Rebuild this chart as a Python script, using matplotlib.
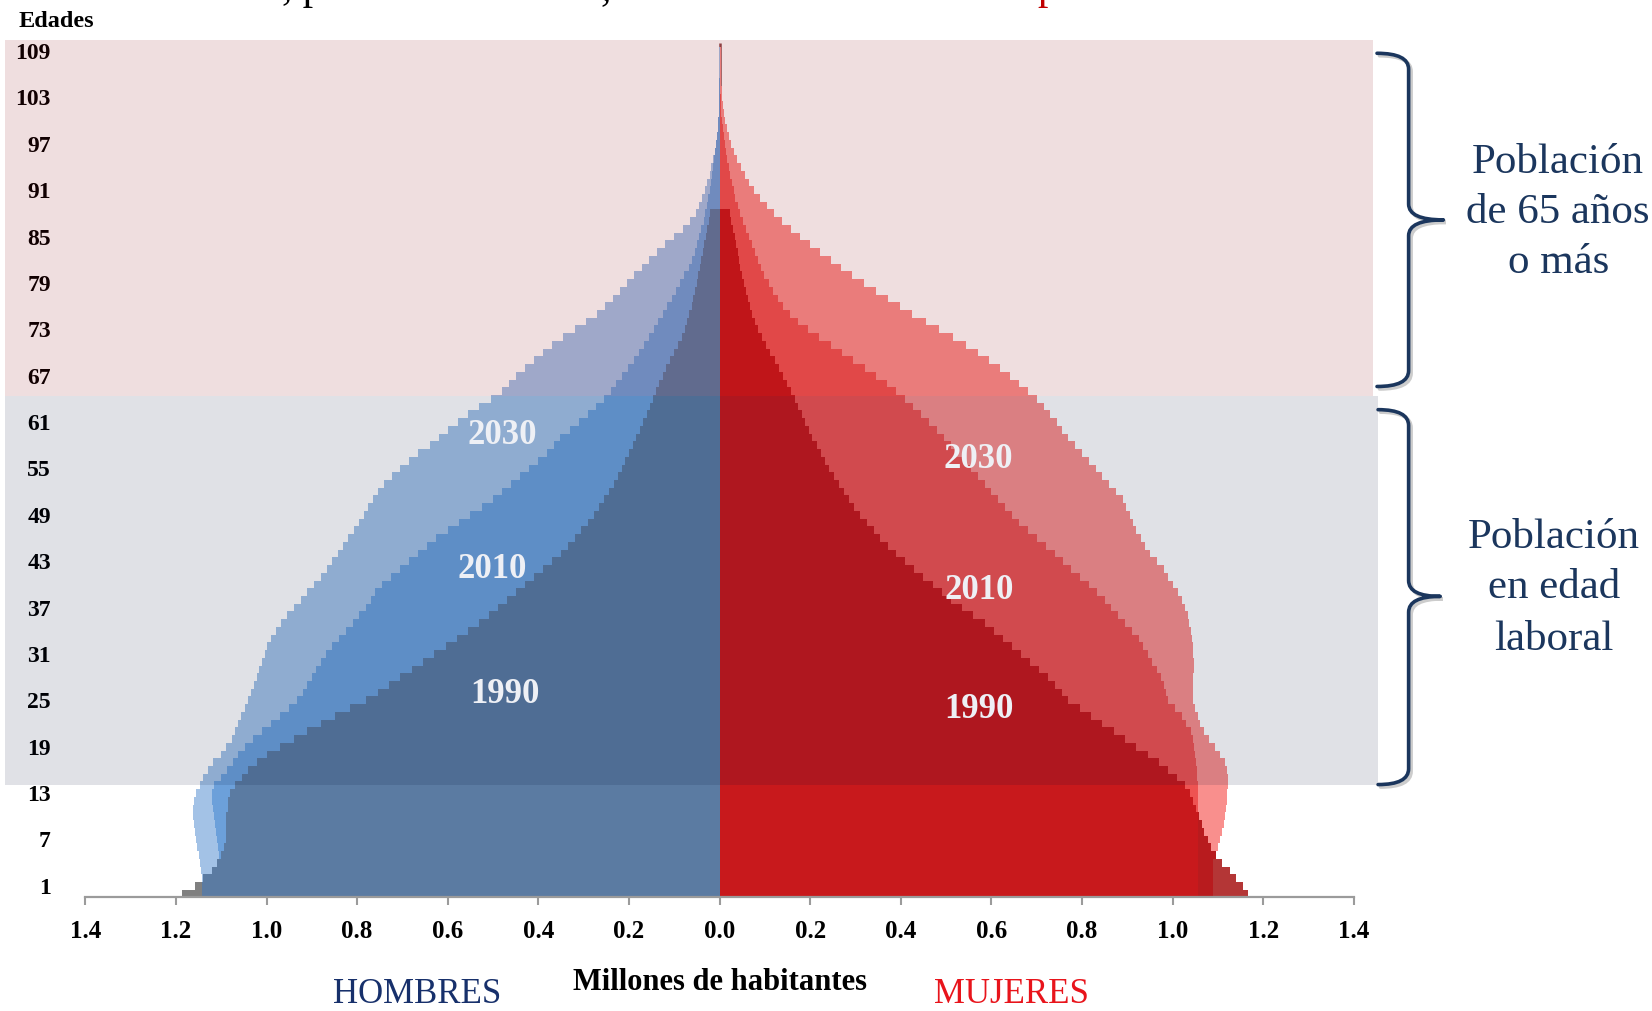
import numpy as np
import matplotlib
matplotlib.use("Agg")
import matplotlib.pyplot as plt
from matplotlib.patches import Rectangle, PathPatch
from matplotlib.path import Path
import matplotlib.transforms as mtransforms

plt.rcParams['font.family'] = ['Liberation Serif', 'DejaVu Serif']

# ---------------- data (millions of inhabitants, ages 0..109) ----------------
ages = np.arange(0, 110)

male_1990 = [1.187, 1.158, 1.14, 1.12, 1.11, 1.10, 1.095, 1.09, 1.09, 1.09,
             1.09, 1.085, 1.085, 1.08, 1.07, 1.055, 1.04, 1.02, 1.0, 0.97,
             0.94, 0.91, 0.88, 0.85, 0.815, 0.78, 0.755, 0.73, 0.705, 0.68,
             0.655, 0.63, 0.605, 0.58, 0.555, 0.53, 0.51, 0.49, 0.47, 0.45,
             0.43, 0.41, 0.39, 0.37, 0.35, 0.335, 0.32, 0.305, 0.29, 0.278,
             0.266, 0.255, 0.244, 0.234, 0.225, 0.216, 0.208, 0.2, 0.192, 0.184,
             0.176, 0.168, 0.161, 0.154, 0.147, 0.14, 0.133, 0.126, 0.118, 0.11,
             0.1, 0.092, 0.084, 0.077, 0.072, 0.067, 0.062, 0.058, 0.054, 0.05,
             0.047, 0.044, 0.04, 0.037, 0.034, 0.03, 0.027, 0.024, 0.021, 0,
             0, 0, 0, 0, 0, 0, 0, 0, 0, 0,
             0, 0, 0, 0, 0, 0, 0, 0, 0, 0]

male_2010 = [1.10, 1.10, 1.10, 1.10, 1.10, 1.105, 1.108, 1.11, 1.112, 1.114,
             1.116, 1.118, 1.12, 1.12, 1.115, 1.10, 1.088, 1.075, 1.062, 1.048,
             1.03, 1.01, 0.99, 0.97, 0.95, 0.932, 0.92, 0.91, 0.90, 0.89,
             0.88, 0.868, 0.855, 0.84, 0.825, 0.81, 0.795, 0.78, 0.77, 0.76,
             0.745, 0.725, 0.705, 0.685, 0.665, 0.645, 0.625, 0.60, 0.575, 0.55,
             0.525, 0.50, 0.48, 0.46, 0.44, 0.42, 0.40, 0.38, 0.365, 0.352,
             0.33, 0.31, 0.29, 0.272, 0.255, 0.24, 0.228, 0.215, 0.203, 0.19,
             0.178, 0.166, 0.155, 0.145, 0.135, 0.125, 0.115, 0.105, 0.096, 0.087,
             0.078, 0.068, 0.06, 0.055, 0.05, 0.045, 0.04, 0.035, 0.032, 0.028,
             0.025, 0.022, 0.019, 0.016, 0.014, 0.012, 0.01, 0.008, 0.006, 0.004,
             0.003, 0.002, 0.0015, 0.001, 0.001, 0.001, 0, 0, 0, 0]

male_2030 = [1.143, 1.143, 1.143, 1.145, 1.148, 1.15, 1.153, 1.155, 1.158, 1.16,
             1.162, 1.162, 1.16, 1.155, 1.148, 1.14, 1.13, 1.118, 1.10, 1.09,
             1.077, 1.07, 1.063, 1.056, 1.048, 1.04, 1.034, 1.028, 1.022, 1.016,
             1.01, 1.004, 0.998, 0.99, 0.98, 0.968, 0.955, 0.94, 0.925, 0.91,
             0.895, 0.88, 0.867, 0.855, 0.843, 0.831, 0.82, 0.808, 0.796, 0.785,
             0.775, 0.765, 0.755, 0.74, 0.722, 0.705, 0.685, 0.665, 0.64, 0.62,
             0.60, 0.578, 0.555, 0.53, 0.505, 0.48, 0.465, 0.45, 0.43, 0.41,
             0.39, 0.37, 0.345, 0.32, 0.295, 0.27, 0.252, 0.235, 0.22, 0.204,
             0.188, 0.172, 0.155, 0.138, 0.12, 0.1, 0.08, 0.065, 0.052, 0.045,
             0.038, 0.032, 0.027, 0.022, 0.018, 0.014, 0.011, 0.008, 0.006, 0.004,
             0.003, 0.002, 0.0015, 0.001, 0.001, 0.001, 0.001, 0.001, 0.001, 0.001]

female_1990 = [1.166, 1.155, 1.14, 1.126, 1.11, 1.095, 1.085, 1.077, 1.07, 1.064,
               1.058, 1.052, 1.046, 1.038, 1.028, 1.01, 0.99, 0.97, 0.945, 0.92,
               0.895, 0.87, 0.845, 0.82, 0.795, 0.77, 0.755, 0.74, 0.725, 0.705,
               0.685, 0.665, 0.645, 0.625, 0.605, 0.585, 0.56, 0.535, 0.51, 0.49,
               0.47, 0.45, 0.43, 0.41, 0.39, 0.372, 0.355, 0.34, 0.325, 0.31,
               0.297, 0.285, 0.274, 0.263, 0.252, 0.242, 0.232, 0.223, 0.214, 0.205,
               0.197, 0.189, 0.181, 0.174, 0.167, 0.158, 0.149, 0.14, 0.131, 0.122,
               0.112, 0.102, 0.093, 0.085, 0.078, 0.072, 0.067, 0.062, 0.058, 0.054,
               0.05, 0.046, 0.043, 0.04, 0.037, 0.034, 0.03, 0.026, 0.022, 0,
               0, 0, 0, 0, 0, 0, 0, 0, 0, 0,
               0, 0, 0, 0, 0, 0, 0, 0, 0, 0]

female_2010 = [1.057, 1.057, 1.057, 1.057, 1.057, 1.057, 1.057, 1.057, 1.057, 1.057,
               1.057, 1.057, 1.057, 1.057, 1.055, 1.053, 1.053, 1.052, 1.05, 1.048,
               1.046, 1.04, 1.03, 1.02, 1.005, 0.99, 0.985, 0.98, 0.975, 0.965,
               0.955, 0.945, 0.935, 0.925, 0.91, 0.895, 0.88, 0.865, 0.85, 0.832,
               0.815, 0.795, 0.775, 0.757, 0.74, 0.72, 0.70, 0.68, 0.66, 0.645,
               0.63, 0.615, 0.60, 0.585, 0.57, 0.555, 0.54, 0.525, 0.51, 0.495,
               0.48, 0.462, 0.445, 0.428, 0.41, 0.39, 0.37, 0.345, 0.32, 0.295,
               0.27, 0.245, 0.22, 0.195, 0.172, 0.155, 0.14, 0.128, 0.118, 0.108,
               0.099, 0.091, 0.084, 0.078, 0.072, 0.065, 0.058, 0.051, 0.045, 0.04,
               0.035, 0.031, 0.027, 0.024, 0.02, 0.017, 0.014, 0.011, 0.009, 0.007,
               0.005, 0.004, 0.003, 0.003, 0.002, 0.002, 0.002, 0.002, 0.002, 0.002]

female_2030 = [1.09, 1.09, 1.09, 1.09, 1.09, 1.095, 1.10, 1.105, 1.11, 1.113,
               1.116, 1.118, 1.12, 1.121, 1.122, 1.122, 1.12, 1.115, 1.105, 1.093,
               1.08, 1.07, 1.06, 1.055, 1.05, 1.046, 1.045, 1.045, 1.046, 1.047,
               1.047, 1.046, 1.045, 1.043, 1.04, 1.037, 1.033, 1.028, 1.02, 1.012,
               1.0, 0.99, 0.98, 0.965, 0.95, 0.94, 0.93, 0.92, 0.912, 0.905,
               0.898, 0.89, 0.875, 0.86, 0.845, 0.83, 0.815, 0.80, 0.785, 0.77,
               0.755, 0.745, 0.73, 0.715, 0.70, 0.68, 0.66, 0.64, 0.618, 0.595,
               0.57, 0.545, 0.515, 0.485, 0.455, 0.425, 0.398, 0.372, 0.345, 0.318,
               0.292, 0.268, 0.245, 0.222, 0.2, 0.178, 0.158, 0.138, 0.12, 0.104,
               0.09, 0.077, 0.066, 0.056, 0.047, 0.039, 0.032, 0.026, 0.021, 0.017,
               0.013, 0.01, 0.008, 0.006, 0.005, 0.004, 0.004, 0.004, 0.004, 0.004]

x_ticks = [-1.4, -1.2, -1.0, -0.8, -0.6, -0.4, -0.2, 0.0, 0.2, 0.4, 0.6, 0.8, 1.0, 1.2, 1.4]
y_ticks = list(range(1, 110, 6))

year_labels = ["2030", "2010", "1990"]

# colours
M_COL = {"2030": "#A3C2E6", "2010": "#6CA0DA", "1990": "#5B7BA2",
         "1990mid": "#5B7BA2", "1990edge": "#808080"}
F_COL = {"2030": "#F98F8D", "2010": "#EE5352", "1990": "#C8191C",
         "1990mid": "#B81B1E", "1990edge": "#B43636"}

# ---------------- figure ----------------
W, H = 1568.0, 960.0          # reference view size used for layout
fig = plt.figure(figsize=(16.52, 10.11), dpi=100)
fig.patch.set_facecolor("white")
ax = fig.add_axes([0, 0, 1, 1])
ax.set_facecolor("none")
X0, PXU = 683.0, 430.0        # x=0 position, pixels per million
Y0, PYU = 848.5, 7.34         # age=0 position, pixels per year
ax.set_xlim(-X0 / PXU, (W - X0) / PXU)
ax.set_ylim((Y0 - H) / PYU, Y0 / PYU)

T = mtransforms.Affine2D().scale(1 / W, -1 / H).translate(0, 1) + fig.transFigure

edges = np.arange(-0.5, len(ages) + 0.5, 1.0)

# center line (visible as spike above the bars)
ax.plot([0, 0], [-0.5, 110.1], color="#8E4A4C", lw=1.8, zorder=1.5, solid_capstyle="butt")


def draw_side(sign, v90, v10, v30, cols):
    v90 = np.asarray(v90, float)
    v10 = np.asarray(v10, float)
    v30 = np.asarray(v30, float)
    kw = dict(orientation="horizontal", fill=True, lw=0)
    ax.stairs(sign * v30, edges, baseline=0, color=cols["2030"], zorder=2, **kw)
    ax.stairs(sign * v10, edges, baseline=0, color=cols["2010"], zorder=3, **kw)
    main_end = np.minimum(v90, v10)
    mid_end = np.minimum(v90, np.maximum(v10, v30))
    ax.stairs(sign * main_end, edges, baseline=0, color=cols["1990"], zorder=4, **kw)
    ax.stairs(sign * mid_end, edges, baseline=sign * main_end, color=cols["1990mid"], zorder=4, **kw)
    ax.stairs(sign * v90, edges, baseline=sign * mid_end, color=cols["1990edge"], zorder=4, **kw)


draw_side(-1, male_1990, male_2010, male_2030, M_COL)
draw_side(1, female_1990, female_2010, female_2030, F_COL)

# translucent bands
x_left = (5 - X0) / PXU
ax.add_patch(Rectangle((x_left, 64.4), (1303 - X0) / PXU - x_left, 110.4 - 64.4,
                       facecolor=(139 / 255, 0, 8 / 255), alpha=0.13, lw=0, zorder=5))
ax.add_patch(Rectangle((x_left, 14.0), (1308 - X0) / PXU - x_left, 64.4 - 14.0,
                       facecolor=(0, 13 / 255, 55 / 255), alpha=0.12, lw=0, zorder=5))

# year labels
lab_pos_m = [(-0.479, 59.2), (-0.502, 41.9), (-0.474, 25.8)]
lab_pos_f = [(0.572, 56.2), (0.572, 39.2), (0.572, 23.8)]
for lab, (xm, ym), (xf, yf) in zip(year_labels, lab_pos_m, lab_pos_f):
    for xx, yy in ((xm, ym), (xf, yf)):
        ax.text(xx, yy, lab, ha="center", va="center", fontsize=25,
                fontweight="bold", color="#EEF0F5", zorder=7)

# axes styling
for s in ("top", "right"):
    ax.spines[s].set_visible(False)
ax.spines["left"].set_position(("data", -1.47))
ax.spines["left"].set_visible(False)
ax.spines["bottom"].set_position(("data", -0.5))
ax.spines["bottom"].set_bounds(-1.4, 1.4)
ax.spines["bottom"].set_color("#9B9B9B")
ax.spines["bottom"].set_linewidth(1.6)
ax.spines["bottom"].set_zorder(6)

ax.set_xticks(x_ticks)
ax.set_xticklabels([f"{abs(v):.1f}" for v in x_ticks], fontweight="bold")
ax.tick_params(axis="x", direction="out", length=6, width=1.5, color="#9B9B9B",
               labelsize=18, pad=10)
ax.set_yticks(y_ticks)
ax.set_yticklabels([str(v) for v in y_ticks], fontweight="bold")
ax.tick_params(axis="y", length=0, labelsize=17, pad=2)

# texts (reference-view pixel coordinates)
fig.text(18, 20, "Edades", transform=T, ha="left", va="center", fontsize=17.5, fontweight="bold")
fig.text(683, 933, "Millones de habitantes", transform=T, ha="center", va="center",
         fontsize=22, fontweight="bold")
fig.text(396, 944, "HOMBRES", transform=T, ha="center", va="center", fontsize=25, color="#17306B")
fig.text(960, 944, "MUJERES", transform=T, ha="center", va="center", fontsize=25, color="#E8141B")

# cut-off title fragments at the top edge (only descenders visible, as in the reference)
fig.text(268, -1, ", p", transform=T, ha="left", va="baseline", fontsize=30, color="black")
fig.text(570, -1, ",", transform=T, ha="left", va="baseline", fontsize=30, color="black")
fig.text(985, -1, "p", transform=T, ha="left", va="baseline", fontsize=30, color="#C00000")

NAVY = "#1B365D"
for s, yb in (("Población", 164.5), ("de 65 años", 212.0), ("o más", 259.4)):
    fig.text(1479, yb, s, transform=T, ha="center", va="baseline", fontsize=31, color=NAVY)
for s, yb in (("Población", 520.4), ("en edad", 567.9), ("laboral", 617.0)):
    fig.text(1475, yb, s, transform=T, ha="center", va="baseline", fontsize=31, color=NAVY)


def brace(x0, xv, xt, top, tip, bot, r=15):
    verts = [(x0, top), (xv, top), (xv, top + r),
             (xv, tip - r), (xv, tip), (xt, tip),
             (xv, tip), (xv, tip + r),
             (xv, bot - r), (xv, bot), (x0, bot)]
    codes = [Path.MOVETO, Path.CURVE3, Path.CURVE3,
             Path.LINETO, Path.CURVE3, Path.CURVE3,
             Path.CURVE3, Path.CURVE3,
             Path.LINETO, Path.CURVE3, Path.CURVE3]
    p = Path(verts, codes)
    shadow_T = T + mtransforms.ScaledTranslation(2.5 / 100, -2.5 / 100, fig.dpi_scale_trans)
    fig.add_artist(PathPatch(p, transform=shadow_T, fill=False, lw=2.6,
                             edgecolor="#9A9A9A", alpha=0.5, capstyle="round"))
    fig.add_artist(PathPatch(p, transform=T, fill=False, lw=2.6,
                             edgecolor=NAVY, capstyle="round", joinstyle="round"))


brace(1307, 1337, 1370, 50.6, 208.8, 367.0)
brace(1308, 1337, 1367, 389.0, 566.3, 745.0)

fig.savefig("out.png", dpi=100)
